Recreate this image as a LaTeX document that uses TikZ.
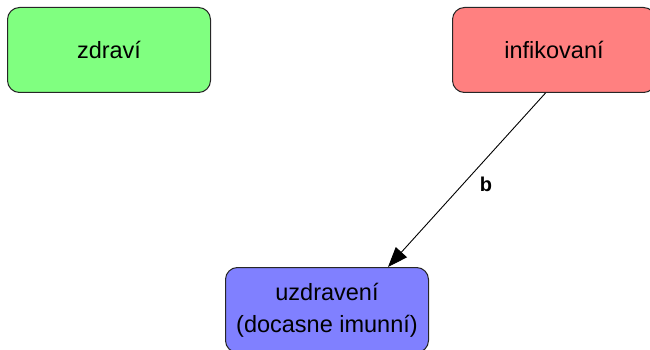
\documentclass[tikz,border=0pt]{standalone}
\usepackage{fontspec}
\setmainfont{Liberation Sans}
\usetikzlibrary{arrows.meta}
\definecolor{boxgreen}{HTML}{80FF80}
\definecolor{boxred}{HTML}{FF8080}
\definecolor{boxblue}{HTML}{8080FF}
\tikzset{
  statebox/.style={draw=black!85, line width=1pt, rounded corners=12pt,
    minimum width=203pt, minimum height=85pt, inner sep=0pt, align=center,
    font=\fontsize{23.5}{32}\selectfont, anchor=north west},
  link/.style={line width=0.9pt, -{Triangle[length=20pt,width=15pt]}},
  lbl/.style={font=\fontsize{20}{22}\selectfont\bfseries}
}
\begin{document}
\begin{tikzpicture}[x=1pt,y=-1pt]
\useasboundingbox (0,0) rectangle (650,350);
\clip (0,0) rectangle (650,350);
\node[statebox, fill=boxgreen] (zdr) at (7,7) {zdraví};
\node[statebox, fill=boxred] (inf) at (452,7) {infikovaní};
\node[statebox, fill=boxblue] (uzd) at (225,267) {uzdravení\\(docasne imunní)};
\draw[link] ([xshift=-8.5pt]inf.south) -- ([xshift=61pt]uzd.north);
\node[lbl] (b) at (486,184) {b};
\end{tikzpicture}
\end{document}
